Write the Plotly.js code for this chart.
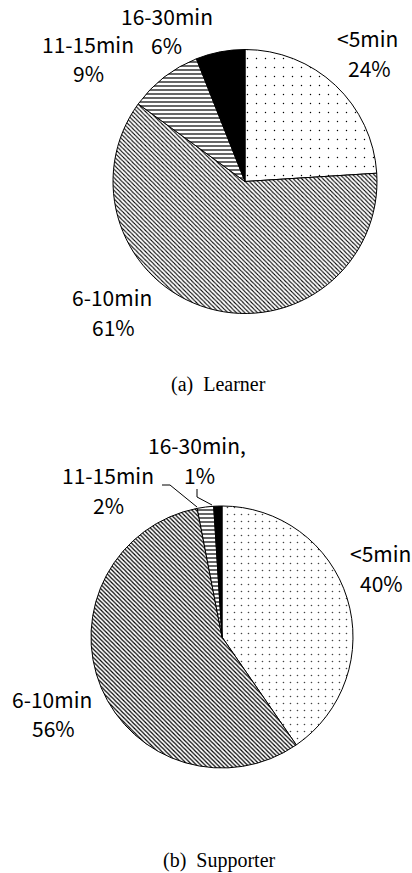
<!DOCTYPE html>
<html>
<head>
<meta charset="utf-8">
<script src="https://cdn.plot.ly/plotly-3.0.1.min.js"></script>
<style>html,body{margin:0;padding:0;background:#fff;}#chart{width:412px;height:873px;}</style>
</head>
<body>
<div id="chart"></div>
<script>
// ---- data ----
const categories = ['<5min', '6-10min', '11-15min', '16-30min'];
const learnerPct = [24, 61, 9, 6];
const supporterPct = [40, 56, 2, 1];
const learnerNames = ['<5min', '6-10min', '11-15min', '16-30min'];
const supporterNames = ['<5min', '6-10min', '11-15min', '16-30min,'];
const captions = ['(a)\u00a0\u00a0Learner', '(b)\u00a0\u00a0Supporter'];

// ---- layout helpers ----
const W = 412, H = 873;
const px = x => x / W;
const py = y => 1 - y / H;
const labelFont = {family: '"Noto Sans CJK JP", "Noto Sans", sans-serif', size: 21, color: '#000'};
const capFont = {family: '"Liberation Serif", "Times New Roman", serif', size: 20, color: '#000'};

// label positions [name xy, pct xy] per slice
const pos1 = [[[367, 38], [369, 68]], [[112, 297], [113, 327]], [[88, 44], [88, 73]], [[167, 16], [166, 45]]];
const pos2 = [[[380, 553], [381, 583]], [[52, 699], [53, 728]], [[108, 475], [108, 505]], [[197, 445], [199, 475]]];

function pieTrace(vals, dom, dotSize, dotSol, dotColor, diagSize, diagSol) {
  return {
    type: 'pie', values: vals, labels: categories, sort: false,
    direction: 'clockwise', rotation: 0, textinfo: 'none', hoverinfo: 'none',
    showlegend: false, domain: dom,
    marker: {
      colors: ['#fff', '#fff', '#fff', '#000'],
      line: {color: '#000', width: 1},
      pattern: {
        shape: ['.', '\\', '-', ''],
        fgcolor: [dotColor, '#000', '#000', '#000'],
        bgcolor: ['#fff', '#fff', '#fff', '#000'],
        size: [dotSize, diagSize, 4, 8],
        solidity: [dotSol, diagSol, 0.3, 0.5],
        fillmode: 'replace'
      }
    }
  };
}

const traces = [
  pieTrace(learnerPct, {x: [px(113), px(377)], y: [py(313.5), py(49.5)]}, 9, 0.02, '#000', 3, 0.35),
  pieTrace(supporterPct, {x: [px(91), px(353)], y: [py(768), py(506)]}, 7, 0.04, '#444', 3, 0.4)
];

const annotations = [];
function addLabels(names, pcts, pos) {
  names.forEach((n, i) => {
    annotations.push({xref: 'paper', yref: 'paper', x: px(pos[i][0][0]), y: py(pos[i][0][1]), text: n,
      showarrow: false, xanchor: 'center', yanchor: 'middle', borderpad: 0, font: labelFont});
    annotations.push({xref: 'paper', yref: 'paper', x: px(pos[i][1][0]), y: py(pos[i][1][1]), text: pcts[i] + '%',
      showarrow: false, xanchor: 'center', yanchor: 'middle', borderpad: 0, font: labelFont});
  });
}
addLabels(learnerNames, learnerPct, pos1);
addLabels(supporterNames, supporterPct, pos2);
annotations.push({xref: 'paper', yref: 'paper', x: px(218), y: py(384), text: captions[0], showarrow: false, xanchor: 'center', yanchor: 'middle', font: capFont});
annotations.push({xref: 'paper', yref: 'paper', x: px(219), y: py(860), text: captions[1], showarrow: false, xanchor: 'center', yanchor: 'middle', font: capFont});

function pathOf(pts) {
  return pts.map((p, i) => (i ? 'L ' : 'M ') + px(p[0]) + ',' + py(p[1])).join(' ');
}
const shapes = [
  {type: 'path', xref: 'paper', yref: 'paper', path: pathOf([[162, 485], [170, 485], [197, 507]]), line: {color: '#000', width: 1}},
  {type: 'path', xref: 'paper', yref: 'paper', path: pathOf([[197, 489], [197, 497], [212, 505]]), line: {color: '#000', width: 1}}
];

const layout = {
  width: W, height: H, margin: {l: 0, r: 0, t: 0, b: 0},
  paper_bgcolor: '#fff', plot_bgcolor: '#fff', showlegend: false,
  annotations: annotations, shapes: shapes
};
Plotly.newPlot('chart', traces, layout, {staticPlot: true, displayModeBar: false});
</script>
</body>
</html>
